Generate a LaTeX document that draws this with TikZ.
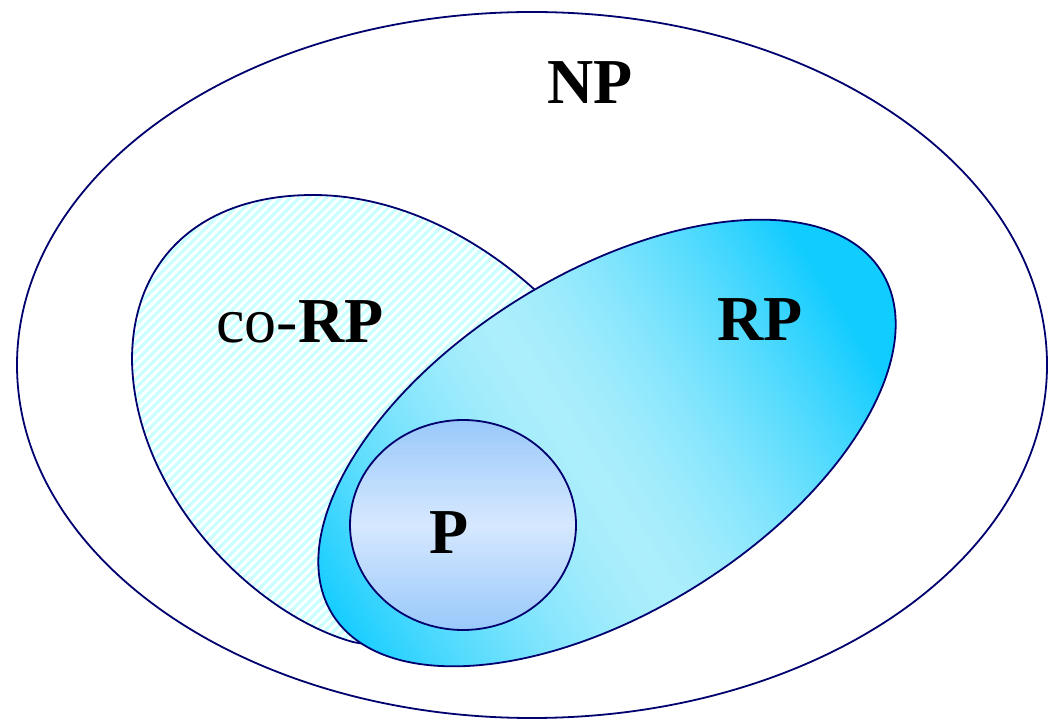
\documentclass[tikz,border=0pt]{standalone}
\usepackage{fontspec}
\setmainfont{Liberation Serif}
\definecolor{edge}{RGB}{0,0,110}
\definecolor{hatch}{RGB}{204,255,255}
\definecolor{rpdark}{RGB}{17,204,255}
\definecolor{rplight}{RGB}{172,238,252}
\definecolor{pdark}{RGB}{152,200,250}
\definecolor{plight}{RGB}{214,232,255}
\begin{document}
\begin{tikzpicture}[x=1pt,y=1pt,
  outline/.style={draw=edge,line width=1.8pt},
  lbl/.style={font=\fontsize{64}{64}\selectfont, inner sep=0pt}]
\useasboundingbox (0,0) rectangle (1048,720);
% NP
\draw[outline, fill=white] (532,355) ellipse (515 and 353);
% co-RP hatched blob
\begin{scope}
\clip (132,360) .. controls (132,460) and (200,525) .. (313,525)
  .. controls (400,525) and (480,480) .. (535,430)
  .. controls (600,370) and (600,150) .. (470,95)
  .. controls (420,80) and (380,72) .. (353,78)
  .. controls (255,105) and (134,225) .. cycle;
\fill[white] (0,0) rectangle (1048,720);
\foreach \i in {-430,-421,...,570} \draw[hatch, line width=3.2pt] (\i,0) -- ++(720,720);
\end{scope}
\draw[outline] (132,360) .. controls (132,460) and (200,525) .. (313,525)
  .. controls (400,525) and (480,480) .. (535,430)
  .. controls (600,370) and (600,150) .. (470,95)
  .. controls (420,80) and (380,72) .. (353,78)
  .. controls (255,105) and (134,225) .. cycle;
% RP with gradient along major axis
\begin{scope}[shift={(607,277)}, rotate=32]
\begin{scope}
\clip (0,0) ellipse (323.6 and 168.7);
\foreach \u in {-328,-324,...,326} {
  \pgfmathsetmacro\p{max(0,100*(1-(abs(\u+2+30)/300)^1.5))}
  \fill[rplight!\p!rpdark] (\u,-175) rectangle (\u+4.6,175);
}
\end{scope}
\draw[outline] (0,0) ellipse (323.6 and 168.7);
\end{scope}
% P with vertical gradient
\begin{scope}
\clip (463,195) ellipse (113 and 105);
\foreach \v in {88,91,...,300} {
  \pgfmathsetmacro\q{100*(1-abs(\v+1.5-195)/106)}
  \fill[plight!\q!pdark] (340,\v) rectangle (590,\v+3.6);
}
\end{scope}
\draw[outline] (463,195) ellipse (113 and 105);
% labels
\node[lbl] (np) at (590,637) {\textbf{NP}};
\node[lbl] (corp) at (300,398) {co-\textbf{RP}};
\node[lbl] (rp) at (760,400) {\textbf{RP}};
\node[lbl] (p) at (449,187) {\textbf{P}};
\end{tikzpicture}
\end{document}
